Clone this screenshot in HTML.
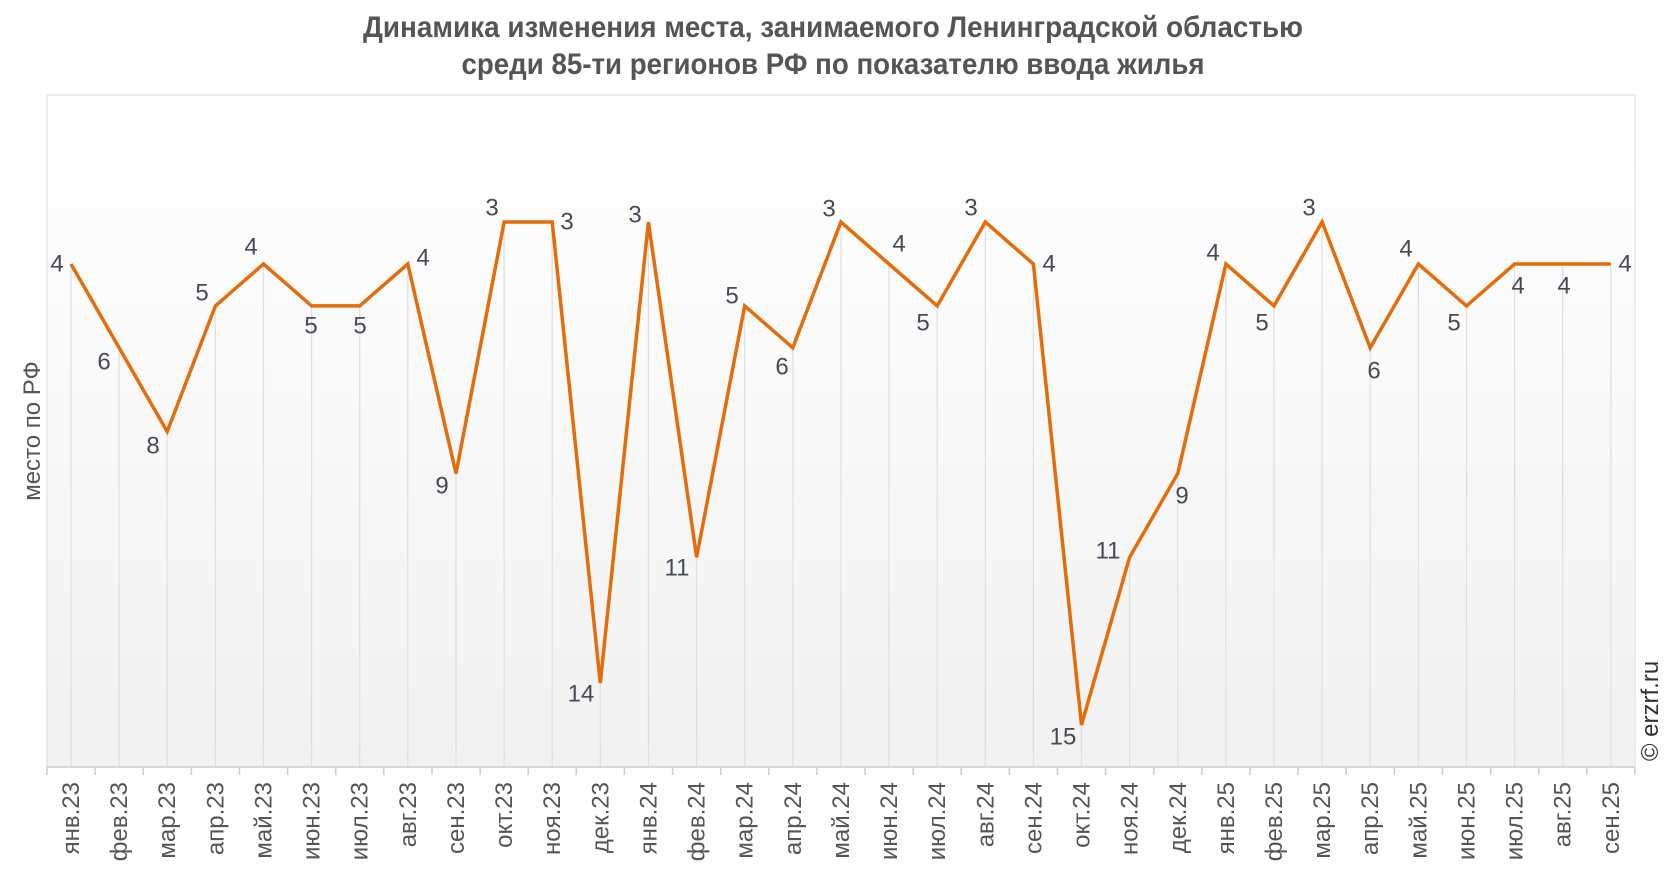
<!DOCTYPE html>
<html><head><meta charset="utf-8"><style>
html,body{margin:0;padding:0;background:#fff}
svg{display:block}
</style></head><body>
<svg width="1666" height="872" viewBox="0 0 1666 872" xmlns="http://www.w3.org/2000/svg" font-family="Liberation Sans, sans-serif">
<defs>
<linearGradient id="bg" x1="0" y1="0" x2="0" y2="1">
<stop offset="0" stop-color="#ffffff"/><stop offset="1" stop-color="#f1f1f1"/>
</linearGradient>
</defs>
<text x="833" y="37" text-anchor="middle" font-weight="bold" font-size="30" fill="#555" textLength="940" lengthAdjust="spacingAndGlyphs">Динамика изменения места, занимаемого Ленинградской областью</text>
<text x="833" y="74" text-anchor="middle" font-weight="bold" font-size="30" fill="#555" textLength="743" lengthAdjust="spacingAndGlyphs">среди 85-ти регионов РФ по показателю ввода жилья</text>
<rect x="47" y="95" width="1588" height="672" fill="url(#bg)" stroke="#dcdcdc" stroke-width="1"/>
<g stroke="#dedede" stroke-width="1.2">
<line x1="71" y1="264" x2="71" y2="767"/><line x1="119.1" y1="347.8" x2="119.1" y2="767"/><line x1="167.2" y1="431.6" x2="167.2" y2="767"/><line x1="215.4" y1="305.9" x2="215.4" y2="767"/><line x1="263.5" y1="264" x2="263.5" y2="767"/><line x1="311.6" y1="305.9" x2="311.6" y2="767"/><line x1="359.7" y1="305.9" x2="359.7" y2="767"/><line x1="407.8" y1="264" x2="407.8" y2="767"/><line x1="456" y1="473.5" x2="456" y2="767"/><line x1="504.1" y1="222" x2="504.1" y2="767"/><line x1="552.2" y1="222" x2="552.2" y2="767"/><line x1="600.3" y1="683" x2="600.3" y2="767"/><line x1="648.4" y1="222" x2="648.4" y2="767"/><line x1="696.6" y1="557.3" x2="696.6" y2="767"/><line x1="744.7" y1="305.9" x2="744.7" y2="767"/><line x1="792.8" y1="347.8" x2="792.8" y2="767"/><line x1="840.9" y1="222" x2="840.9" y2="767"/><line x1="889" y1="264" x2="889" y2="767"/><line x1="937.2" y1="305.9" x2="937.2" y2="767"/><line x1="985.3" y1="222" x2="985.3" y2="767"/><line x1="1033.4" y1="264" x2="1033.4" y2="767"/><line x1="1081.5" y1="724.9" x2="1081.5" y2="767"/><line x1="1129.6" y1="557.3" x2="1129.6" y2="767"/><line x1="1177.8" y1="473.5" x2="1177.8" y2="767"/><line x1="1225.9" y1="264" x2="1225.9" y2="767"/><line x1="1274" y1="305.9" x2="1274" y2="767"/><line x1="1322.1" y1="222" x2="1322.1" y2="767"/><line x1="1370.2" y1="347.8" x2="1370.2" y2="767"/><line x1="1418.4" y1="264" x2="1418.4" y2="767"/><line x1="1466.5" y1="305.9" x2="1466.5" y2="767"/><line x1="1514.6" y1="264" x2="1514.6" y2="767"/><line x1="1562.7" y1="264" x2="1562.7" y2="767"/><line x1="1610.8" y1="264" x2="1610.8" y2="767"/>
</g>
<line x1="47" y1="767" x2="1635" y2="767" stroke="#ccc" stroke-width="1.5"/>
<g stroke="#ccc" stroke-width="1.5">
<line x1="47" y1="767" x2="47" y2="775"/><line x1="95.1" y1="767" x2="95.1" y2="775"/><line x1="143.2" y1="767" x2="143.2" y2="775"/><line x1="191.4" y1="767" x2="191.4" y2="775"/><line x1="239.5" y1="767" x2="239.5" y2="775"/><line x1="287.6" y1="767" x2="287.6" y2="775"/><line x1="335.7" y1="767" x2="335.7" y2="775"/><line x1="383.8" y1="767" x2="383.8" y2="775"/><line x1="432" y1="767" x2="432" y2="775"/><line x1="480.1" y1="767" x2="480.1" y2="775"/><line x1="528.2" y1="767" x2="528.2" y2="775"/><line x1="576.3" y1="767" x2="576.3" y2="775"/><line x1="624.4" y1="767" x2="624.4" y2="775"/><line x1="672.6" y1="767" x2="672.6" y2="775"/><line x1="720.7" y1="767" x2="720.7" y2="775"/><line x1="768.8" y1="767" x2="768.8" y2="775"/><line x1="816.9" y1="767" x2="816.9" y2="775"/><line x1="865" y1="767" x2="865" y2="775"/><line x1="913.2" y1="767" x2="913.2" y2="775"/><line x1="961.3" y1="767" x2="961.3" y2="775"/><line x1="1009.4" y1="767" x2="1009.4" y2="775"/><line x1="1057.5" y1="767" x2="1057.5" y2="775"/><line x1="1105.6" y1="767" x2="1105.6" y2="775"/><line x1="1153.8" y1="767" x2="1153.8" y2="775"/><line x1="1201.9" y1="767" x2="1201.9" y2="775"/><line x1="1250" y1="767" x2="1250" y2="775"/><line x1="1298.1" y1="767" x2="1298.1" y2="775"/><line x1="1346.2" y1="767" x2="1346.2" y2="775"/><line x1="1394.4" y1="767" x2="1394.4" y2="775"/><line x1="1442.5" y1="767" x2="1442.5" y2="775"/><line x1="1490.6" y1="767" x2="1490.6" y2="775"/><line x1="1538.7" y1="767" x2="1538.7" y2="775"/><line x1="1586.8" y1="767" x2="1586.8" y2="775"/><line x1="1635" y1="767" x2="1635" y2="775"/>
</g>
<polyline fill="none" stroke="#e46c0a" stroke-width="3.5" stroke-linejoin="miter" points="71,264 119.1,347.8 167.2,431.6 215.4,305.9 263.5,264 311.6,305.9 359.7,305.9 407.8,264 456,473.5 504.1,222 552.2,222 600.3,683 648.4,222 696.6,557.3 744.7,305.9 792.8,347.8 840.9,222 889,264 937.2,305.9 985.3,222 1033.4,264 1081.5,724.9 1129.6,557.3 1177.8,473.5 1225.9,264 1274,305.9 1322.1,222 1370.2,347.8 1418.4,264 1466.5,305.9 1514.6,264 1562.7,264 1610.8,264"/>
<g font-size="24" fill="#454a55" text-anchor="middle" dominant-baseline="central">
<text x="57" y="264">4</text><text x="104" y="362">6</text><text x="153" y="446">8</text><text x="202" y="293">5</text><text x="251" y="247">4</text><text x="311" y="326">5</text><text x="360" y="326">5</text><text x="423" y="258">4</text><text x="442" y="486">9</text><text x="492" y="208">3</text><text x="567" y="222">3</text><text x="581" y="694">14</text><text x="635" y="215">3</text><text x="677" y="568">11</text><text x="732" y="296">5</text><text x="782" y="367">6</text><text x="829" y="209">3</text><text x="899" y="244">4</text><text x="923" y="323">5</text><text x="971" y="208">3</text><text x="1049" y="264">4</text><text x="1063" y="737">15</text><text x="1108" y="551">11</text><text x="1182" y="496">9</text><text x="1213" y="253">4</text><text x="1262" y="323">5</text><text x="1309" y="208">3</text><text x="1374" y="371">6</text><text x="1406" y="249">4</text><text x="1454" y="323">5</text><text x="1518" y="286">4</text><text x="1564" y="286">4</text><text x="1625" y="264">4</text>
</g>
<g font-size="24" fill="#555" text-anchor="end">
<text transform="translate(79,782) rotate(-90)">янв.23</text><text transform="translate(127.1,782) rotate(-90)">фев.23</text><text transform="translate(175.2,782) rotate(-90)">мар.23</text><text transform="translate(223.4,782) rotate(-90)">апр.23</text><text transform="translate(271.5,782) rotate(-90)">май.23</text><text transform="translate(319.6,782) rotate(-90)">июн.23</text><text transform="translate(367.7,782) rotate(-90)">июл.23</text><text transform="translate(415.8,782) rotate(-90)">авг.23</text><text transform="translate(464,782) rotate(-90)">сен.23</text><text transform="translate(512.1,782) rotate(-90)">окт.23</text><text transform="translate(560.2,782) rotate(-90)">ноя.23</text><text transform="translate(608.3,782) rotate(-90)">дек.23</text><text transform="translate(656.4,782) rotate(-90)">янв.24</text><text transform="translate(704.6,782) rotate(-90)">фев.24</text><text transform="translate(752.7,782) rotate(-90)">мар.24</text><text transform="translate(800.8,782) rotate(-90)">апр.24</text><text transform="translate(848.9,782) rotate(-90)">май.24</text><text transform="translate(897,782) rotate(-90)">июн.24</text><text transform="translate(945.2,782) rotate(-90)">июл.24</text><text transform="translate(993.3,782) rotate(-90)">авг.24</text><text transform="translate(1041.4,782) rotate(-90)">сен.24</text><text transform="translate(1089.5,782) rotate(-90)">окт.24</text><text transform="translate(1137.6,782) rotate(-90)">ноя.24</text><text transform="translate(1185.8,782) rotate(-90)">дек.24</text><text transform="translate(1233.9,782) rotate(-90)">янв.25</text><text transform="translate(1282,782) rotate(-90)">фев.25</text><text transform="translate(1330.1,782) rotate(-90)">мар.25</text><text transform="translate(1378.2,782) rotate(-90)">апр.25</text><text transform="translate(1426.4,782) rotate(-90)">май.25</text><text transform="translate(1474.5,782) rotate(-90)">июн.25</text><text transform="translate(1522.6,782) rotate(-90)">июл.25</text><text transform="translate(1570.7,782) rotate(-90)">авг.25</text><text transform="translate(1618.8,782) rotate(-90)">сен.25</text>
</g>
<text transform="translate(40,431) rotate(-90)" font-size="24" fill="#555" text-anchor="middle">место по РФ</text>
<text transform="translate(1658,711) rotate(-90)" font-size="24" fill="#333" text-anchor="middle">© erzrf.ru</text>
</svg>
</body></html>
